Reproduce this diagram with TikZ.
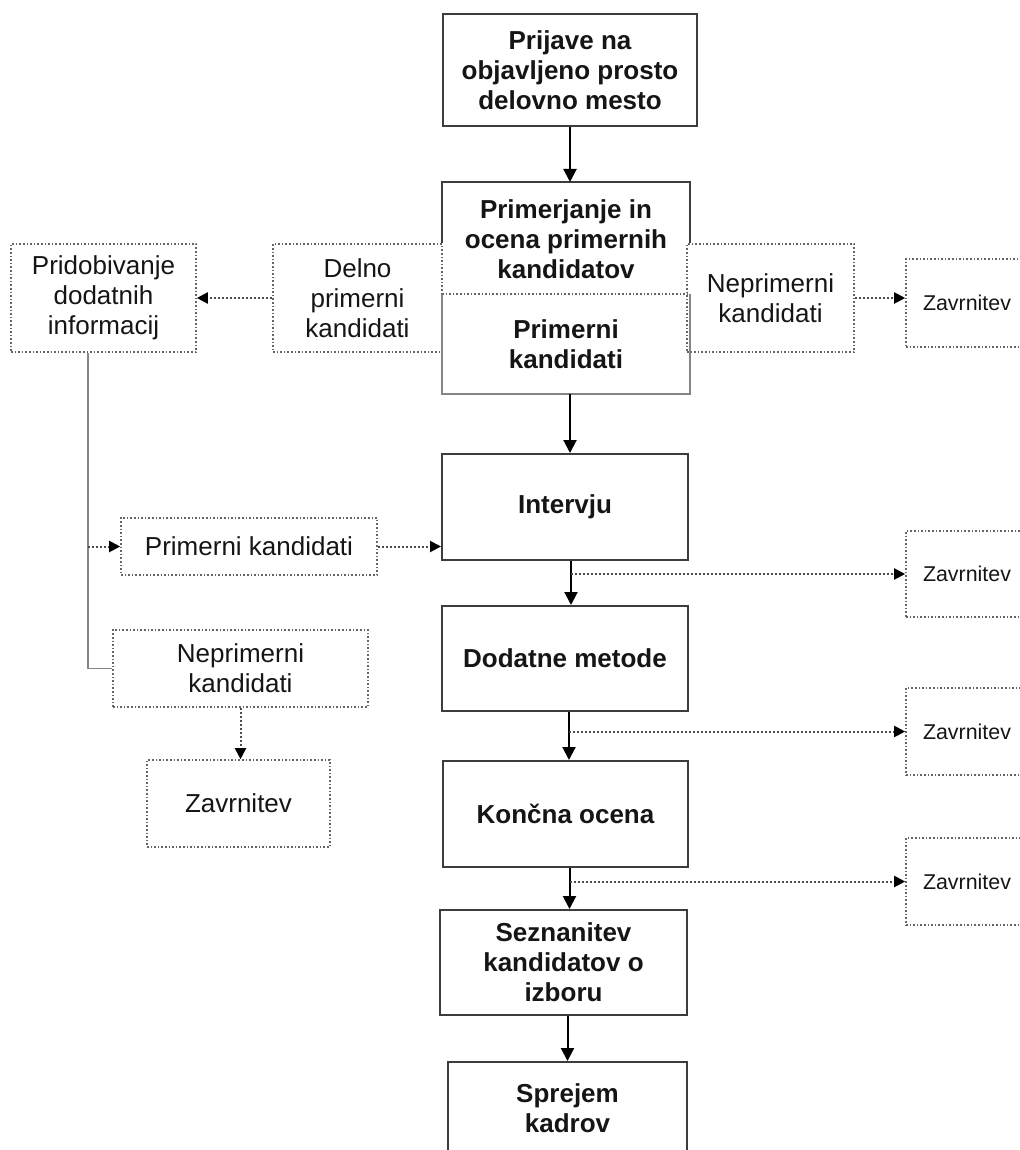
\documentclass[tikz,border=0pt]{standalone}
\usepackage{fontspec}
\setmainfont{Liberation Sans}
\usepackage{xcolor}
\usetikzlibrary{arrows.meta}
\definecolor{boxline}{HTML}{3C3C3C}
\definecolor{dotline}{HTML}{666666}
\definecolor{txt}{HTML}{151515}
\newcommand{\bigf}{\fontsize{13}{15}\selectfont}
\newcommand{\smallf}{\fontsize{10.7}{13}\selectfont}

\begin{document}
\begin{tikzpicture}[x=0.5pt,y=-0.5pt]
  \tikzset{main/.style={draw=boxline, line width=1pt, align=center, inner sep=0pt, text=txt, font=\bigf\bfseries},
           side/.style={draw=dotline, densely dotted, line width=0.8pt, align=center, inner sep=0pt, text=txt, font=\bigf},
           zav/.style={side, font=\smallf, minimum width=61pt, minimum height=43.5pt},
           arr/.style={-{Triangle[length=6.5pt,width=6.5pt]}, line width=1pt, draw=black},
           darr/.style={-{Triangle[length=5.5pt,width=5.5pt,color=black]}, densely dotted, line width=1pt, draw=black!70},
           grey/.style={draw=dotline!80, line width=0.7pt}}
  \useasboundingbox (0,0) rectangle (1019,1150);

  % main column
  \node[main, minimum width=127pt, minimum height=56pt] (Prij) at (570,70) {Prijave na\\objavljeno prosto\\delovno mesto};
  \node[main, draw=none, minimum width=123pt, minimum height=56pt] (Prim) at (566,239) {Primerjanje in\\ocena primernih\\kandidatov};
  \node[main, draw=none, minimum width=123pt, minimum height=49pt] (PrK) at (566,344) {Primerni\\kandidati};
  \node[main, minimum width=123pt, minimum height=53pt] (Int) at (565,507) {Intervju};
  \node[main, minimum width=123pt, minimum height=52.5pt] (Dod) at (565,658.5) {Dodatne metode};
  \node[main, minimum width=122.5pt, minimum height=53pt] (Kon) at (565.5,814) {Končna ocena};
  \node[main, minimum width=123.5pt, minimum height=52.5pt] (Sez) at (563.5,962.5) {Seznanitev\\kandidatov o\\izboru};
  \node[main, minimum width=119.5pt, minimum height=46pt] (Spr) at (567.5,1108) {Sprejem\\kadrov};

  % side boxes
  \node[side, minimum width=84.5pt, minimum height=54pt] (Del) at (357.5,298) {Delno\\primerni\\kandidati};
  \node[side, minimum width=83.5pt, minimum height=54pt] (NepR) at (770.5,298) {Neprimerni\\kandidati};
  \node[zav, minimum height=44pt] (ZavR) at (967,303) {Zavrnitev};
  \node[side, minimum width=92.5pt, minimum height=54pt] (Prid) at (103.5,298) {Pridobivanje\\dodatnih\\informacij};
  \node[side, minimum width=128pt, minimum height=28.5pt] (PrL) at (249,546.5) {Primerni kandidati};
  \node[side, minimum width=127.5pt, minimum height=38.5pt] (NepL) at (240.5,668.5) {Neprimerni\\kandidati};
  \node[side, minimum width=91.5pt, minimum height=43.5pt] (ZavL) at (238.5,803.5) {Zavrnitev};
  \node[zav, minimum height=43pt] (ZavA) at (967,574) {Zavrnitev};
  \node[zav] (ZavB) at (967,731.5) {Zavrnitev};
  \node[zav] (ZavC) at (967,881.5) {Zavrnitev};

  % outline of the split box
  \draw[boxline, line width=1pt] (Prim.west |- Del.north) -- (Prim.north west) -- (Prim.north east) -- (Prim.east |- NepR.north);
  \draw[grey] (PrK.north west) -- (PrK.south west) -- (PrK.south east) -- (PrK.north east);
  \draw[dotline, densely dotted, line width=0.8pt] (PrK.north west) -- (PrK.north east);

  \draw[arr] (Prij.south) -- (Prij.south |- Prim.north);
  \draw[arr] ([xshift=2pt]PrK.south) -- ([xshift=2pt]PrK.south |- Int.north);
  \draw[arr] ([xshift=3pt]Int.south) -- ([xshift=3pt]Int.south |- Dod.north);
  \draw[arr] ([xshift=2pt]Dod.south) -- ([xshift=2pt]Dod.south |- Kon.north);
  \draw[arr] ([xshift=2pt]Kon.south) -- ([xshift=2pt]Kon.south |- Sez.north);
  \draw[arr] ([xshift=2pt]Sez.south) -- ([xshift=2pt]Sez.south |- Spr.north);

  \draw[darr] ([xshift=3pt]Int.south |- ZavA.west) -- (ZavA.west);
  \draw[darr] ([xshift=2pt]Dod.south |- ZavB.west) -- (ZavB.west);
  \draw[darr] ([xshift=2pt]Kon.south |- ZavC.west) -- (ZavC.west);
  \draw[darr] (NepR.east) -- (NepR.east -| ZavR.west);
  \draw[darr] (Del.west) -- (Prid.east);

  \coordinate (tr) at ([xshift=-7.75pt]Prid.south);
  \draw[grey] (tr) |- (NepL.west);
  \draw[darr] (tr |- PrL.west) -- (PrL.west);
  \draw[darr] (PrL.east) -- (PrL.east -| Int.west);
  \draw[darr] (NepL.south) -- (NepL.south |- ZavL.north);
\end{tikzpicture}
\end{document}
